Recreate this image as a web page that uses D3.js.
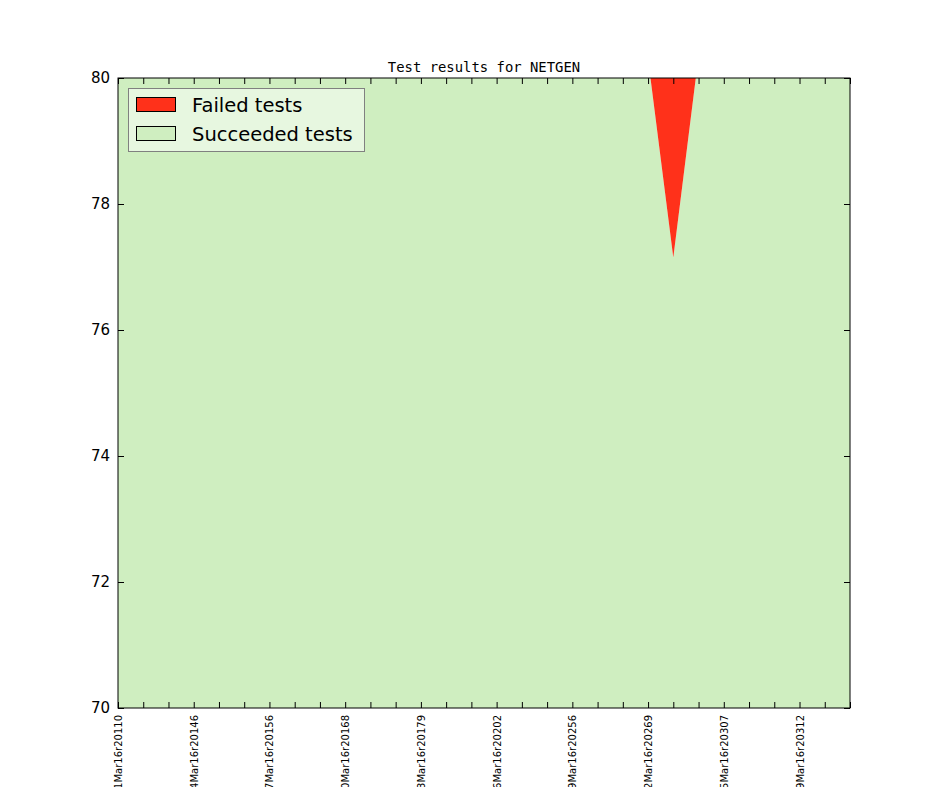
<!DOCTYPE html>
<html>
<head>
<meta charset="utf-8">
<script src="https://cdn.jsdelivr.net/npm/d3@7"></script>
<style>
html,body{margin:0;padding:0;background:#fff;}
svg{display:block;}
</style>
</head>
<body>
<script>
// ---- data ----
const runIndex = d3.range(30);
const succeeded = [80.3,80.3,80.3,80.3,80.3,80.3,80.3,80.3,80.3,80.3,
                   80.3,80.3,80.3,80.3,80.3,80.3,80.3,80.3,80.3,80.3,
                   80.3,80.3,77.15,80.35,80.3,80.3,80.3,80.3,80.3,80.3];
const total = [80.3,80.3,80.3,80.3,80.3,80.3,80.3,80.3,80.3,80.3,
               80.3,80.3,80.3,80.3,80.3,80.3,80.3,80.3,80.3,80.3,
               80.3,80.3,80.3,80.35,80.3,80.3,80.3,80.3,80.3,80.3];
const labelIndex = [0,3,6,9,12,15,18,21,24,27];
const tickLabels = ["01Mar16r20110","04Mar16r20146","07Mar16r20156","10Mar16r20168",
                    "13Mar16r20179","16Mar16r20202","19Mar16r20256","22Mar16r20269",
                    "25Mar16r20307","29Mar16r20312"];
const yTicks = [70,72,74,76,78,80];
const seriesNames = ["Failed tests","Succeeded tests"];
const colors = {failed:"#ff311a", succeeded:"#cfeec0"};
const title = "Test results for NETGEN";

// ---- layout ----
const W = 944, H = 787;
const m = {left:118, right:850, top:78, bottom:708};

const svg = d3.select("body").append("svg").attr("width",W).attr("height",H);

const x = d3.scaleLinear().domain([0,29]).range([m.left,m.right]);
const y = d3.scaleLinear().domain([70,80]).range([m.bottom,m.top]);

svg.append("defs").append("clipPath").attr("id","clip")
  .append("rect").attr("x",m.left).attr("y",m.top)
  .attr("width",m.right-m.left).attr("height",m.bottom-m.top);

const plot = svg.append("g").attr("clip-path","url(#clip)");

const areaSucc = d3.area().x((d,i)=>x(runIndex[i])).y0(y(60)).y1(d=>y(d));
plot.append("path").datum(succeeded).attr("d",areaSucc).attr("fill",colors.succeeded);

const areaFail = d3.area().x((d,i)=>x(runIndex[i]))
  .y0((d,i)=>y(succeeded[i])).y1(d=>y(d));
plot.append("path").datum(total).attr("d",areaFail).attr("fill",colors.failed);

// ---- axes (inward ticks on all four sides) ----
const tl = 6;
const fmtX = i => { const k = labelIndex.indexOf(i); return k>=0 ? tickLabels[k] : ""; };

const xb = svg.append("g").attr("transform",`translate(0,${m.bottom})`)
  .call(d3.axisBottom(x).tickValues(runIndex).tickSize(-tl).tickFormat(fmtX));
xb.select(".domain").remove();
xb.selectAll(".tick text")
  .attr("font-family","DejaVu Sans").attr("font-size","10px").attr("fill","#000")
  .attr("x",0).attr("y",0).attr("dy",null)
  .attr("text-anchor","end").attr("dominant-baseline","central")
  .attr("transform","translate(0,7) rotate(-90)");

const xt = svg.append("g").attr("transform",`translate(0,${m.top})`)
  .call(d3.axisTop(x).tickValues(runIndex).tickSize(-tl).tickFormat(""));
xt.select(".domain").remove();

const yl = svg.append("g").attr("transform",`translate(${m.left},0)`)
  .call(d3.axisLeft(y).tickValues(yTicks).tickSize(-tl).tickPadding(8).tickFormat(d3.format("d")));
yl.select(".domain").remove();
yl.selectAll("text").attr("font-family","DejaVu Sans").attr("font-size","15px").attr("fill","#000");

const yr = svg.append("g").attr("transform",`translate(${m.right},0)`)
  .call(d3.axisRight(y).tickValues(yTicks).tickSize(-tl).tickFormat(""));
yr.select(".domain").remove();

svg.selectAll(".tick line").attr("stroke","#000");

// frame
svg.append("rect").attr("x",m.left).attr("y",m.top)
  .attr("width",m.right-m.left).attr("height",m.bottom-m.top)
  .attr("fill","none").attr("stroke","#000").attr("stroke-width",1);

// title
svg.append("text").attr("x",(m.left+m.right)/2).attr("y",72)
  .attr("text-anchor","middle").attr("font-family","DejaVu Sans Mono")
  .attr("font-size","13.9px").text(title);

// legend
const lg = svg.append("g");
lg.append("rect").attr("x",128.5).attr("y",88.5).attr("width",236).attr("height",63)
  .attr("fill","#ffffff").attr("fill-opacity",0.5).attr("stroke","#808080").attr("stroke-width",1);
const legColors = [colors.failed, colors.succeeded];
seriesNames.forEach((n,i)=>{
  const yy = 97.5 + i*29;
  lg.append("rect").attr("x",136.5).attr("y",yy).attr("width",39).attr("height",14)
    .attr("fill",legColors[i]).attr("stroke","#000").attr("stroke-width",1);
  lg.append("text").attr("x",192).attr("y",yy+14).attr("font-family","DejaVu Sans")
    .attr("font-size","19.5px").attr("fill","#000").text(n);
});
</script>
</body>
</html>
